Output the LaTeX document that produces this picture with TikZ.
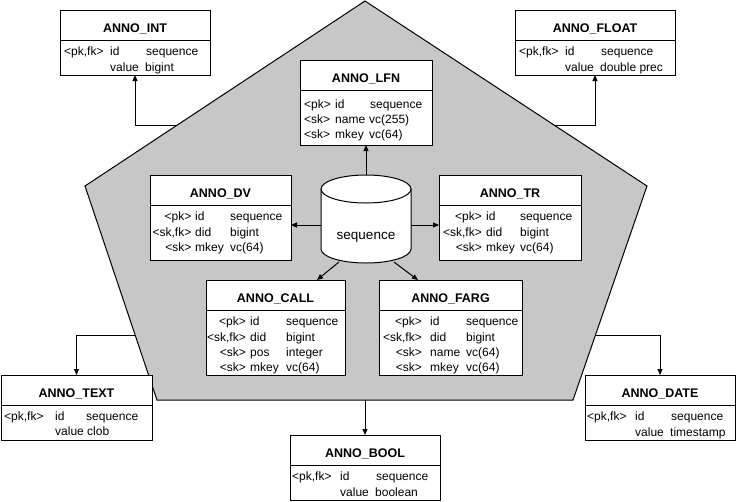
\documentclass[tikz,border=0pt]{standalone}
\usepackage{fontspec}
\setmainfont{Liberation Sans}
\usetikzlibrary{arrows.meta,calc}
\tikzset{
  boxsty/.style={draw, fill=white, line width=1pt, inner sep=0pt, outer sep=0pt, rectangle},
  titlesty/.style={font=\fontsize{12.5}{15}\selectfont\bfseries, inner sep=0pt},
  txt/.style={font=\fontsize{12}{14}\selectfont, inner sep=0pt, anchor=base west},
  txtr/.style={font=\fontsize{12}{14}\selectfont, inner sep=0pt, anchor=base east},
  conn/.style={line width=1pt, -{Triangle[length=6pt,width=5pt]}},
  divline/.style={line width=1pt},
  pent/.style={line width=1pt, fill=black!22},
  cyl/.style={line width=1pt, fill=white},
}
\newcommand\erbox[7]{%
  \node[boxsty, minimum width={#4-#2}, minimum height={#5-#3}] (#1) at ({(#2+#4)/2},{(#3+#5)/2}) {};
  \draw[divline] (#2,#6) -- (#4,#6);
  \node[titlesty, anchor=base] (#1-title) at ({(#2+#4)/2},{#3+22}) {#7};
}
\newcommand\tx[4]{\node[txt] (#1) at (#2,#3) {#4};}
\newcommand\txr[4]{\node[txtr] (#1) at (#2,#3) {#4};}
\begin{document}
\begin{tikzpicture}[x=1pt,y=-1pt]
\useasboundingbox (0,0) rectangle (736,501);
% pentagon
\coordinate (pA) at (365,1);
\coordinate (pL) at (85,186);
\coordinate (pR) at (647,186);
\coordinate (pBL) at (157,400);
\coordinate (pBR) at (573,400);
\draw[pent] (pA) -- (pR) -- (pBR) -- (pBL) -- (pL) -- cycle;
\coordinate (eInt) at ($(pA)!0.6703!(pL)$);
\coordinate (eFloat) at ($(pA)!0.6703!(pR)$);
\coordinate (eText) at ($(pL)!0.6963!(pBL)$);
\coordinate (eDate) at ($(pR)!0.6963!(pBR)$);
\coordinate (eBool) at (365,400);

% outer boxes
\erbox{int}{60}{10}{210}{75}{40}{ANNO\_INT}
\tx{int1a}{64}{55}{<pk,fk>}
\tx{int1b}{110}{55}{id}
\tx{int1c}{146}{55}{sequence}
\tx{int2b}{110}{71}{value}
\tx{int2c}{145}{71}{bigint}

\erbox{flt}{515}{10}{675}{75}{40}{ANNO\_FLOAT}
\tx{flt1a}{519}{55}{<pk,fk>}
\tx{flt1b}{565}{55}{id}
\tx{flt1c}{601}{55}{sequence}
\tx{flt2b}{565}{71}{value}
\tx{flt2c}{600}{71}{double prec}

\erbox{txt}{1}{375}{152}{440}{405}{ANNO\_TEXT}
\tx{txt1a}{4}{420}{<pk,fk>}
\tx{txt1b}{55}{420}{id}
\tx{txt1c}{86}{420}{sequence}
\tx{txt2b}{55}{435}{value}
\tx{txt2c}{87}{435}{clob}

\erbox{bool}{290}{435}{440}{500}{465}{ANNO\_BOOL}
\tx{bool1a}{292}{480}{<pk,fk>}
\tx{bool1b}{340}{480}{id}
\tx{bool1c}{376}{480}{sequence}
\tx{bool2b}{340}{496}{value}
\tx{bool2c}{375}{496}{boolean}

\erbox{date}{585}{375}{735}{440}{405}{ANNO\_DATE}
\tx{date1a}{587}{420}{<pk,fk>}
\tx{date1b}{635}{420}{id}
\tx{date1c}{671}{420}{sequence}
\tx{date2b}{635}{436}{value}
\tx{date2c}{670}{436}{timestamp}

% inner boxes
\erbox{lfn}{300}{60}{432}{145}{90}{ANNO\_LFN}
\tx{lfn1a}{304}{108}{<pk>}
\tx{lfn1b}{335}{108}{id}
\tx{lfn1c}{370}{108}{sequence}
\tx{lfn2a}{304}{123}{<sk>}
\tx{lfn2b}{335}{123}{name}
\tx{lfn2c}{369}{123}{vc(255)}
\tx{lfn3a}{304}{138}{<sk>}
\tx{lfn3b}{335}{138}{mkey}
\tx{lfn3c}{369}{138}{vc(64)}

\erbox{dv}{150}{175}{291}{260}{205}{ANNO\_DV}
\txr{dv1a}{191.5}{220}{<pk>}
\tx{dv1b}{195}{220}{id}
\tx{dv1c}{230}{220}{sequence}
\txr{dv2a}{191.5}{236}{<sk,fk>}
\tx{dv2b}{195}{236}{did}
\tx{dv2c}{230}{236}{bigint}
\txr{dv3a}{191.5}{251.5}{<sk>}
\tx{dv3b}{195}{251.5}{mkey}
\tx{dv3c}{230}{251.5}{vc(64)}

\erbox{tr}{439}{175}{581}{260}{205}{ANNO\_TR}
\txr{tr1a}{482}{220}{<pk>}
\tx{tr1b}{486}{220}{id}
\tx{tr1c}{520}{220}{sequence}
\txr{tr2a}{482}{236}{<sk,fk>}
\tx{tr2b}{486}{236}{did}
\tx{tr2c}{520}{236}{bigint}
\txr{tr3a}{482}{251.5}{<sk>}
\tx{tr3b}{486}{251.5}{mkey}
\tx{tr3c}{520}{251.5}{vc(64)}

\erbox{call}{206}{280}{345}{375}{310}{ANNO\_CALL}
\txr{call1a}{246}{325}{<pk>}
\tx{call1b}{250}{325}{id}
\tx{call1c}{286}{325}{sequence}
\txr{call2a}{246}{341}{<sk,fk>}
\tx{call2b}{250}{341}{did}
\tx{call2c}{286}{341}{bigint}
\txr{call3a}{246}{356}{<sk>}
\tx{call3b}{250}{356}{pos}
\tx{call3c}{286}{356}{integer}
\txr{call4a}{246}{371}{<sk>}
\tx{call4b}{250}{371}{mkey}
\tx{call4c}{286}{371}{vc(64)}

\erbox{farg}{379}{280}{522}{375}{310}{ANNO\_FARG}
\txr{farg1a}{422}{325}{<pk>}
\tx{farg1b}{430}{325}{id}
\tx{farg1c}{466}{325}{sequence}
\txr{farg2a}{422}{341}{<sk,fk>}
\tx{farg2b}{430}{341}{did}
\tx{farg2c}{466}{341}{bigint}
\txr{farg3a}{422}{356}{<sk>}
\tx{farg3b}{430}{356}{name}
\tx{farg3c}{466}{356}{vc(64)}
\txr{farg4a}{422}{371}{<sk>}
\tx{farg4b}{430}{371}{mkey}
\tx{farg4c}{466}{371}{vc(64)}

% cylinder
\draw[cyl] (321,189) -- (321,249) arc[start angle=180,end angle=0,x radius=45,y radius=14]
  -- (411,189) arc[start angle=0,end angle=-180,x radius=45,y radius=14] -- cycle;
\draw[line width=1pt] (321,189) arc[start angle=180,end angle=0,x radius=45,y radius=14];
\node[inner sep=0pt, minimum width=90pt, minimum height=88pt] (seq) at (366,219) {};
\node[font=\fontsize{13.5}{16}\selectfont, inner sep=0pt, anchor=base] (seqlabel) at (366,239) {sequence};
\coordinate (seqL) at (321,225);
\coordinate (seqR) at (411,225);
\coordinate (seqBL) at (339,262);
\coordinate (seqBR) at (394,262);
\coordinate (callIn) at (317,280);
\coordinate (fargIn) at (418,280);

% connectors
\draw[conn] (seq.north) -- (seq.north |- lfn.south);
\draw[conn] (seqL) -- (seqL -| dv.east);
\draw[conn] (seqR) -- (seqR -| tr.west);
\draw[conn] (seqBL) -- (callIn);
\draw[conn] (seqBR) -- (fargIn);
\draw[conn] (eInt) -| (int.south);
\draw[conn] (eFloat) -| (flt.south);
\draw[conn] (eText) -| (txt.north);
\draw[conn] (eDate) -| (date.north);
\draw[conn] (eBool) -- (bool.north);
\end{tikzpicture}
\end{document}
